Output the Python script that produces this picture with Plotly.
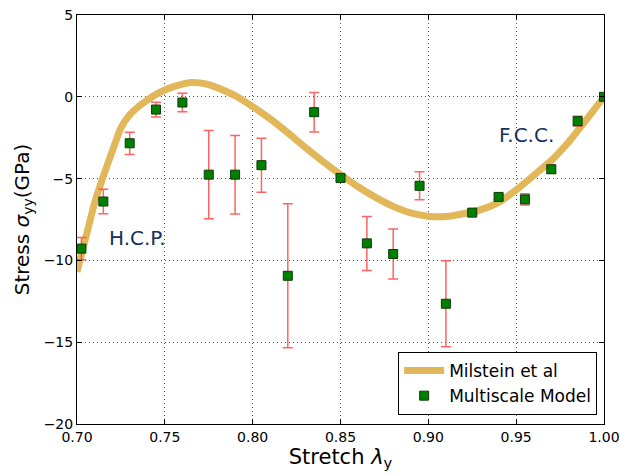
import plotly.graph_objects as go

# Milstein et al reference curve
curve_stretch = [0.700, 0.705, 0.710, 0.715, 0.720, 0.725, 0.730, 0.735, 0.740, 0.745,
                 0.750, 0.755, 0.760, 0.765, 0.770, 0.775, 0.780, 0.785, 0.790, 0.795,
                 0.800, 0.810, 0.820, 0.830, 0.840, 0.850, 0.860, 0.870, 0.880, 0.890,
                 0.900, 0.910, 0.920, 0.930, 0.940, 0.950, 0.960, 0.970, 0.980, 0.990, 1.000]
curve_stress = [-10.7, -8.6, -6.5, -4.85, -3.35, -1.9, -1.1, -0.6, -0.2, 0.15,
                0.42, 0.62, 0.78, 0.87, 0.85, 0.74, 0.55, 0.32, 0.07, -0.25,
                -0.6, -1.35, -2.2, -3.1, -3.95, -4.75, -5.5, -6.15, -6.7, -7.1,
                -7.3, -7.32, -7.15, -6.9, -6.45, -5.7, -4.8, -3.9, -2.75, -1.4, 0.0]

# Multiscale model results with error bars
model_stretch = [0.7025, 0.715, 0.730, 0.745, 0.760, 0.775, 0.790, 0.805, 0.820, 0.835, 0.850,
                 0.865, 0.880, 0.895, 0.910, 0.925, 0.940, 0.955, 0.970, 0.985, 1.000]
model_stress = [-9.28, -6.4, -2.84, -0.78, -0.35, -4.76, -4.76, -4.18, -10.94, -0.94, -4.96,
                -8.96, -9.61, -5.44, -12.65, -7.08, -6.12, -6.27, -4.43, -1.49, 0.0]
model_error = [0.68, 0.75, 0.68, 0.45, 0.57, 2.7, 2.4, 1.65, 4.4, 1.21, 0.15,
               1.65, 1.53, 0.86, 2.63, 0.1, 0.15, 0.35, 0.25, 0.3, 0.05]

x_ticks = [0.70, 0.75, 0.80, 0.85, 0.90, 0.95, 1.00]
y_ticks = [5, 0, -5, -10, -15, -20]

FONT = "DejaVu Sans"

fig = go.Figure()

fig.add_trace(go.Scatter(
    x=curve_stretch, y=curve_stress, mode="lines",
    name="Milstein et al",
    line=dict(color="#e2b75a", width=7, shape="spline", smoothing=0.5),
))

fig.add_trace(go.Scatter(
    x=model_stretch, y=model_stress, mode="markers",
    name="Multiscale Model",
    marker=dict(symbol="square", size=9, color="#008000",
                line=dict(color="#0a3a0a", width=1)),
    error_y=dict(type="data", array=model_error, visible=True,
                 color="rgba(255,60,60,0.8)", thickness=1.5, width=5),
))

fig.add_annotation(x=0.7345, y=-8.65, text="H.C.P.", showarrow=False,
                   font=dict(family=FONT, size=20, color="#13305e"))
fig.add_annotation(x=0.956, y=-2.35, text="F.C.C.", showarrow=False,
                   font=dict(family=FONT, size=20, color="#13305e"))

axis_common = dict(
    showline=True, linecolor="black", linewidth=1, mirror="ticks",
    ticks="inside", ticklen=5, tickcolor="black",
    showgrid=True, gridcolor="#555555", gridwidth=1, griddash="1px,3px",
    zeroline=False, automargin=False,
    tickfont=dict(family=FONT, size=14, color="black"),
)

fig.update_xaxes(
    range=[0.70, 1.00], tickvals=x_ticks, tickformat=".2f",
    title=dict(text="Stretch <i>λ</i><sub>y</sub>",
               font=dict(family=FONT, size=21, color="black"), standoff=5),
    **axis_common,
)
fig.update_yaxes(
    range=[-20, 5], tickvals=y_ticks,
    title=dict(text="Stress <i>σ</i><sub>yy</sub>(GPa)",
               font=dict(family=FONT, size=20, color="black"), standoff=8),
    **axis_common,
)

fig.update_layout(
    width=620, height=475,
    margin=dict(l=77, r=16, t=15, b=51, autoexpand=False),
    paper_bgcolor="white", plot_bgcolor="white",
    font=dict(family=FONT, color="black"),
    legend=dict(
        x=0.987, y=0.022, xanchor="right", yanchor="bottom",
        bgcolor="white", bordercolor="black", borderwidth=1,
        font=dict(family=FONT, size=17, color="black"),
        itemwidth=40, tracegroupgap=2,
    ),
)

fig.write_html("out.html")
